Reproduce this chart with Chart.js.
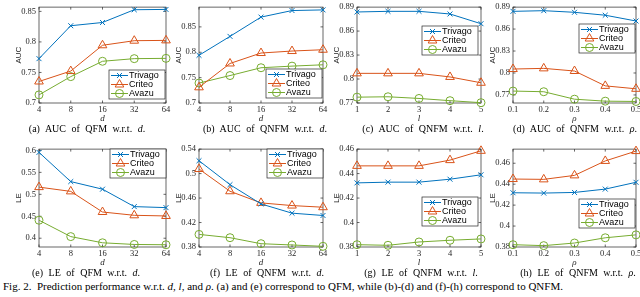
<!DOCTYPE html>
<html>
<head>
<meta charset="utf-8">
<script src="https://cdn.jsdelivr.net/npm/chart.js@4.4.1/dist/chart.umd.min.js"></script>
<style>
body{margin:0;background:#fff;}
#fig{position:relative;width:640px;height:297px;overflow:hidden;font-family:'Liberation Serif',serif;color:#000;}
.holder{position:absolute;}
.xl{position:absolute;font-style:italic;font-size:9px;line-height:9px;transform:translate(-50%,-50%);color:#262626;}
.cap{position:absolute;font-size:10px;line-height:10px;white-space:nowrap;transform:translate(-50%,-50%);word-spacing:3px;}
#figcap{position:absolute;left:3px;top:281px;font-size:11px;line-height:11px;white-space:nowrap;}
</style>
</head>
<body>
<div id="fig">
<div id="figcap">Fig. 2.&nbsp; Prediction performance w.r.t. <i>d</i>, <i>l</i>, and <i>ρ</i>. (a) and (e) correspond to QFM, while (b)-(d) and (f)-(h) correspond to QNFM.</div>
</div>
<script>
const dLabels = ['4', '8', '16', '32', '64'];
const lLabels = ['1', '2', '3', '4', '5'];
const rhoLabels = ['0.1', '0.2', '0.3', '0.4', '0.5'];

const seriesNames = ['Trivago', 'Criteo', 'Avazu'];

// (a) AUC of QFM w.r.t. d
const aucQfmD_trivago = [0.7726, 0.8265, 0.8318, 0.8527, 0.8532];
const aucQfmD_criteo = [0.7352, 0.7523, 0.7945, 0.8020, 0.8025];
const aucQfmD_avazu = [0.7133, 0.7432, 0.7683, 0.7726, 0.7731];
// (b) AUC of QNFM w.r.t. d
const aucQnfmD_trivago = [0.7940, 0.8313, 0.8693, 0.8822, 0.8835];
const aucQnfmD_criteo = [0.7309, 0.7779, 0.7985, 0.8024, 0.8050];
const aucQnfmD_avazu = [0.7393, 0.7541, 0.7695, 0.7727, 0.7753];
// (c) AUC of QNFM w.r.t. l
const aucQnfmL_trivago = [0.8839, 0.8847, 0.8847, 0.8814, 0.8692];
const aucQnfmL_criteo = [0.8071, 0.8071, 0.8071, 0.8026, 0.7953];
const aucQnfmL_avazu = [0.7773, 0.7778, 0.7757, 0.7729, 0.7704];
// (d) AUC of QNFM w.r.t. rho
const aucQnfmRho_trivago = [0.8842, 0.8851, 0.8829, 0.8789, 0.8710];
const aucQnfmRho_criteo = [0.8054, 0.8063, 0.8027, 0.7824, 0.7784];
const aucQnfmRho_avazu = [0.7753, 0.7744, 0.7642, 0.7615, 0.7611];
// (e) LE of QFM w.r.t. d
const leQfmD_trivago = [0.5955, 0.5290, 0.5117, 0.4720, 0.4697];
const leQfmD_criteo = [0.5164, 0.5067, 0.4597, 0.4522, 0.4507];
const leQfmD_avazu = [0.4410, 0.4037, 0.3896, 0.3858, 0.3851];
// (f) LE of QNFM w.r.t. d
const leQnfmD_trivago = [0.5210, 0.4819, 0.4504, 0.4353, 0.4315];
const leQnfmD_criteo = [0.5075, 0.4711, 0.4521, 0.4477, 0.4450];
const leQnfmD_avazu = [0.4006, 0.3952, 0.3854, 0.3833, 0.3811];
// (g) LE of QNFM w.r.t. l
const leQnfmL_trivago = [0.4324, 0.4330, 0.4330, 0.4354, 0.4390];
const leQnfmL_criteo = [0.4463, 0.4463, 0.4463, 0.4510, 0.4586];
const leQnfmL_avazu = [0.3819, 0.3814, 0.3841, 0.3855, 0.3866];
// (h) LE of QNFM w.r.t. rho
const leQnfmRho_trivago = [0.4318, 0.4315, 0.4321, 0.4353, 0.4418];
const leQnfmRho_criteo = [0.4449, 0.4446, 0.4484, 0.4622, 0.4716];
const leQnfmRho_avazu = [0.3822, 0.3813, 0.3838, 0.3888, 0.3916];

// y tick labels
const aucTicksD = [0.7, 0.75, 0.8, 0.85];
const aucTicksLR = [0.77, 0.8, 0.83, 0.86, 0.89];
const leTicksQfm = [0.4, 0.45, 0.5, 0.55, 0.6];
const leTicksQnfmD = [0.38, 0.42, 0.46, 0.5, 0.54];
const leTicksLR = [0.38, 0.4, 0.42, 0.44, 0.46];

const colors = ['#0072BD', '#D95319', '#77AC30'];
const markers = ['crossRot', 'triangle', 'circle'];
const markerSize = [3.5, 5, 4];
const SERIF = "'Liberation Serif', serif";
const SANS = "'Liberation Sans', sans-serif";

const panels = [
	{labels: dLabels, data: [aucQfmD_trivago, aucQfmD_criteo, aucQfmD_avazu], min: 0.7, max: 0.857, ticks: aucTicksD,
		ylabel: 'AUC', xlabel: 'd', cap: '(a) AUC of QFM w.r.t. <i>d</i>.', box: [39, 5, 166, 103], leg: [109, 70], capX: 87},
	{labels: dLabels, data: [aucQnfmD_trivago, aucQnfmD_criteo, aucQnfmD_avazu], min: 0.7, max: 0.889, ticks: aucTicksD,
		ylabel: 'AUC', xlabel: 'd', cap: '(b) AUC of QNFM w.r.t. <i>d</i>.', box: [199, 5, 323, 103], leg: [266, 69], capX: 265},
	{labels: lLabels, data: [aucQnfmL_trivago, aucQnfmL_criteo, aucQnfmL_avazu], min: 0.77, max: 0.89, ticks: aucTicksLR,
		ylabel: 'AUC', xlabel: 'l', cap: '(c) AUC of QNFM w.r.t. <i>l</i>.', box: [357, 5, 481, 103], leg: [422, 26], capX: 423},
	{labels: rhoLabels, data: [aucQnfmRho_trivago, aucQnfmRho_criteo, aucQnfmRho_avazu], min: 0.759, max: 0.89, ticks: aucTicksLR,
		ylabel: 'AUC', xlabel: 'ρ', cap: '(d) AUC of QNFM w.r.t. <i>ρ</i>.', box: [513, 5, 636, 103], leg: [579, 24], capX: 575},
	{labels: dLabels, data: [leQfmD_trivago, leQfmD_criteo, leQfmD_avazu], min: 0.38, max: 0.603, ticks: leTicksQfm,
		ylabel: 'LE', xlabel: 'd', cap: '(e) LE of QFM w.r.t. <i>d</i>.', box: [39, 147, 166, 247], leg: [110, 149], capX: 86},
	{labels: dLabels, data: [leQnfmD_trivago, leQnfmD_criteo, leQnfmD_avazu], min: 0.38, max: 0.54, ticks: leTicksQnfmD,
		ylabel: 'LE', xlabel: 'd', cap: '(f) LE of QNFM w.r.t. <i>d</i>.', box: [199, 147, 323, 247], leg: [267, 149], capX: 267},
	{labels: lLabels, data: [leQnfmL_trivago, leQnfmL_criteo, leQnfmL_avazu], min: 0.38, max: 0.46, ticks: leTicksLR,
		ylabel: 'LE', xlabel: 'l', cap: '(g) LE of QNFM w.r.t. <i>l</i>.', box: [357, 147, 481, 247], leg: [422, 197], capX: 421},
	{labels: rhoLabels, data: [leQnfmRho_trivago, leQnfmRho_criteo, leQnfmRho_avazu], min: 0.38, max: 0.4735, ticks: leTicksLR,
		ylabel: 'LE', xlabel: 'ρ', cap: '(h) LE of QNFM w.r.t. <i>ρ</i>.', box: [513, 147, 636, 247], leg: [579, 199], capX: 578}
];

// axes box with inward ticks, and a legend drawn inside the plot
const matlabAxes = {
	id: 'matlabAxes',
	beforeDatasetsDraw(chart) {
		const {ctx, chartArea: a, scales: {x, y}} = chart;
		ctx.save();
		ctx.strokeStyle = '#262626';
		ctx.lineWidth = 0.7;
		ctx.strokeRect(a.left, a.top, a.right - a.left, a.bottom - a.top);
		ctx.beginPath();
		x.ticks.forEach((t, i) => {
			const px = x.getPixelForTick(i);
			ctx.moveTo(px, a.bottom); ctx.lineTo(px, a.bottom - 2.5);
			ctx.moveTo(px, a.top); ctx.lineTo(px, a.top + 2.5);
		});
		y.ticks.forEach(t => {
			const py = y.getPixelForValue(t.value);
			ctx.moveTo(a.left, py); ctx.lineTo(a.left + 2.5, py);
			ctx.moveTo(a.right, py); ctx.lineTo(a.right - 2.5, py);
		});
		ctx.stroke();
		ctx.restore();
	},
	afterDraw(chart, args, opts) {
		const ctx = chart.ctx;
		const lx = opts.x, ly = opts.y, w = 56, h = 29;
		ctx.save();
		ctx.fillStyle = '#fff';
		ctx.fillRect(lx, ly, w, h);
		ctx.strokeStyle = '#262626';
		ctx.lineWidth = 0.7;
		ctx.strokeRect(lx, ly, w, h);
		chart.data.datasets.forEach((ds, i) => {
			const cy = ly + 5.5 + i * 9;
			ctx.strokeStyle = ds.borderColor;
			ctx.lineWidth = 1;
			ctx.beginPath();
			ctx.moveTo(lx + 2, cy); ctx.lineTo(lx + 19, cy);
			ctx.stroke();
			ctx.fillStyle = 'rgba(0,0,0,0)';
			Chart.helpers.drawPoint(ctx, {pointStyle: ds.pointStyle, radius: ds.pointRadius, borderWidth: 1, rotation: 0}, lx + 10.5, cy);
			ctx.fillStyle = '#000';
			ctx.font = '9px ' + SANS;
			ctx.textBaseline = 'middle';
			ctx.fillText(ds.label, lx + 20, cy + 0.5);
		});
		ctx.restore();
	}
};

function makePanel(p) {
	const [l, t, r, b] = p.box;
	const padL = 40, padT = 6, padR = 9, padB = 14;
	const w = r - l + padL + padR, h = b - t + padT + padB;
	const fig = document.getElementById('fig');
	const holder = document.createElement('div');
	holder.className = 'holder';
	holder.style.left = (l - padL) + 'px';
	holder.style.top = (t - padT) + 'px';
	const cv = document.createElement('canvas');
	cv.width = w; cv.height = h;
	holder.appendChild(cv);
	fig.appendChild(holder);

	const xl = document.createElement('div');
	xl.className = 'xl';
	xl.textContent = p.xlabel;
	xl.style.left = ((l + r) / 2) + 'px';
	xl.style.top = (b + 15) + 'px';
	fig.appendChild(xl);

	const cap = document.createElement('div');
	cap.className = 'cap';
	cap.innerHTML = p.cap;
	cap.style.left = p.capX + 'px';
	cap.style.top = (b + 26) + 'px';
	fig.appendChild(cap);

	new Chart(cv, {
		type: 'line',
		data: {
			labels: p.labels,
			datasets: seriesNames.map((name, i) => ({
				label: name,
				data: p.data[i],
				borderColor: colors[i],
				borderWidth: 1,
				pointStyle: markers[i],
				pointRadius: markerSize[i],
				pointBorderColor: colors[i],
				pointBackgroundColor: 'rgba(0,0,0,0)',
				pointBorderWidth: 1,
				tension: 0,
				clip: false
			}))
		},
		options: {
			responsive: false,
			animation: false,
			devicePixelRatio: 1,
			layout: {padding: {left: 0, top: padT, right: padR, bottom: 0}},
			plugins: {
				legend: {display: false},
				tooltip: {enabled: false},
				matlabAxes: {x: p.leg[0] - (l - padL), y: p.leg[1] - (t - padT)}
			},
			scales: {
				x: {
					offset: false,
					grid: {display: false, drawTicks: false},
					border: {display: false},
					ticks: {font: {family: SERIF, size: 8.5}, color: '#262626', padding: 2, maxRotation: 0, autoSkip: false},
					afterFit: s => { s.height = padB; }
				},
				y: {
					min: p.min,
					max: p.max,
					afterBuildTicks: s => { s.ticks = p.ticks.map(v => ({value: v})); },
					grid: {display: false, drawTicks: false},
					border: {display: false},
					ticks: {font: {family: SERIF, size: 8.5}, color: '#262626', padding: 3,
						callback: v => String(Math.round(v * 1000) / 1000)},
					title: {display: true, text: p.ylabel, font: {family: SANS, size: 8}, color: '#262626', padding: {top: 15, bottom: 0}},
					afterFit: s => { s.width = padL; }
				}
			}
		},
		plugins: [matlabAxes]
	});
}

// canvas text needs the fonts ready before the charts draw
Promise.all([
	document.fonts.load("8px 'Liberation Serif'"),
	document.fonts.load("8px 'Liberation Sans'")
]).then(() => panels.forEach(makePanel), () => panels.forEach(makePanel));
</script>
</body>
</html>
